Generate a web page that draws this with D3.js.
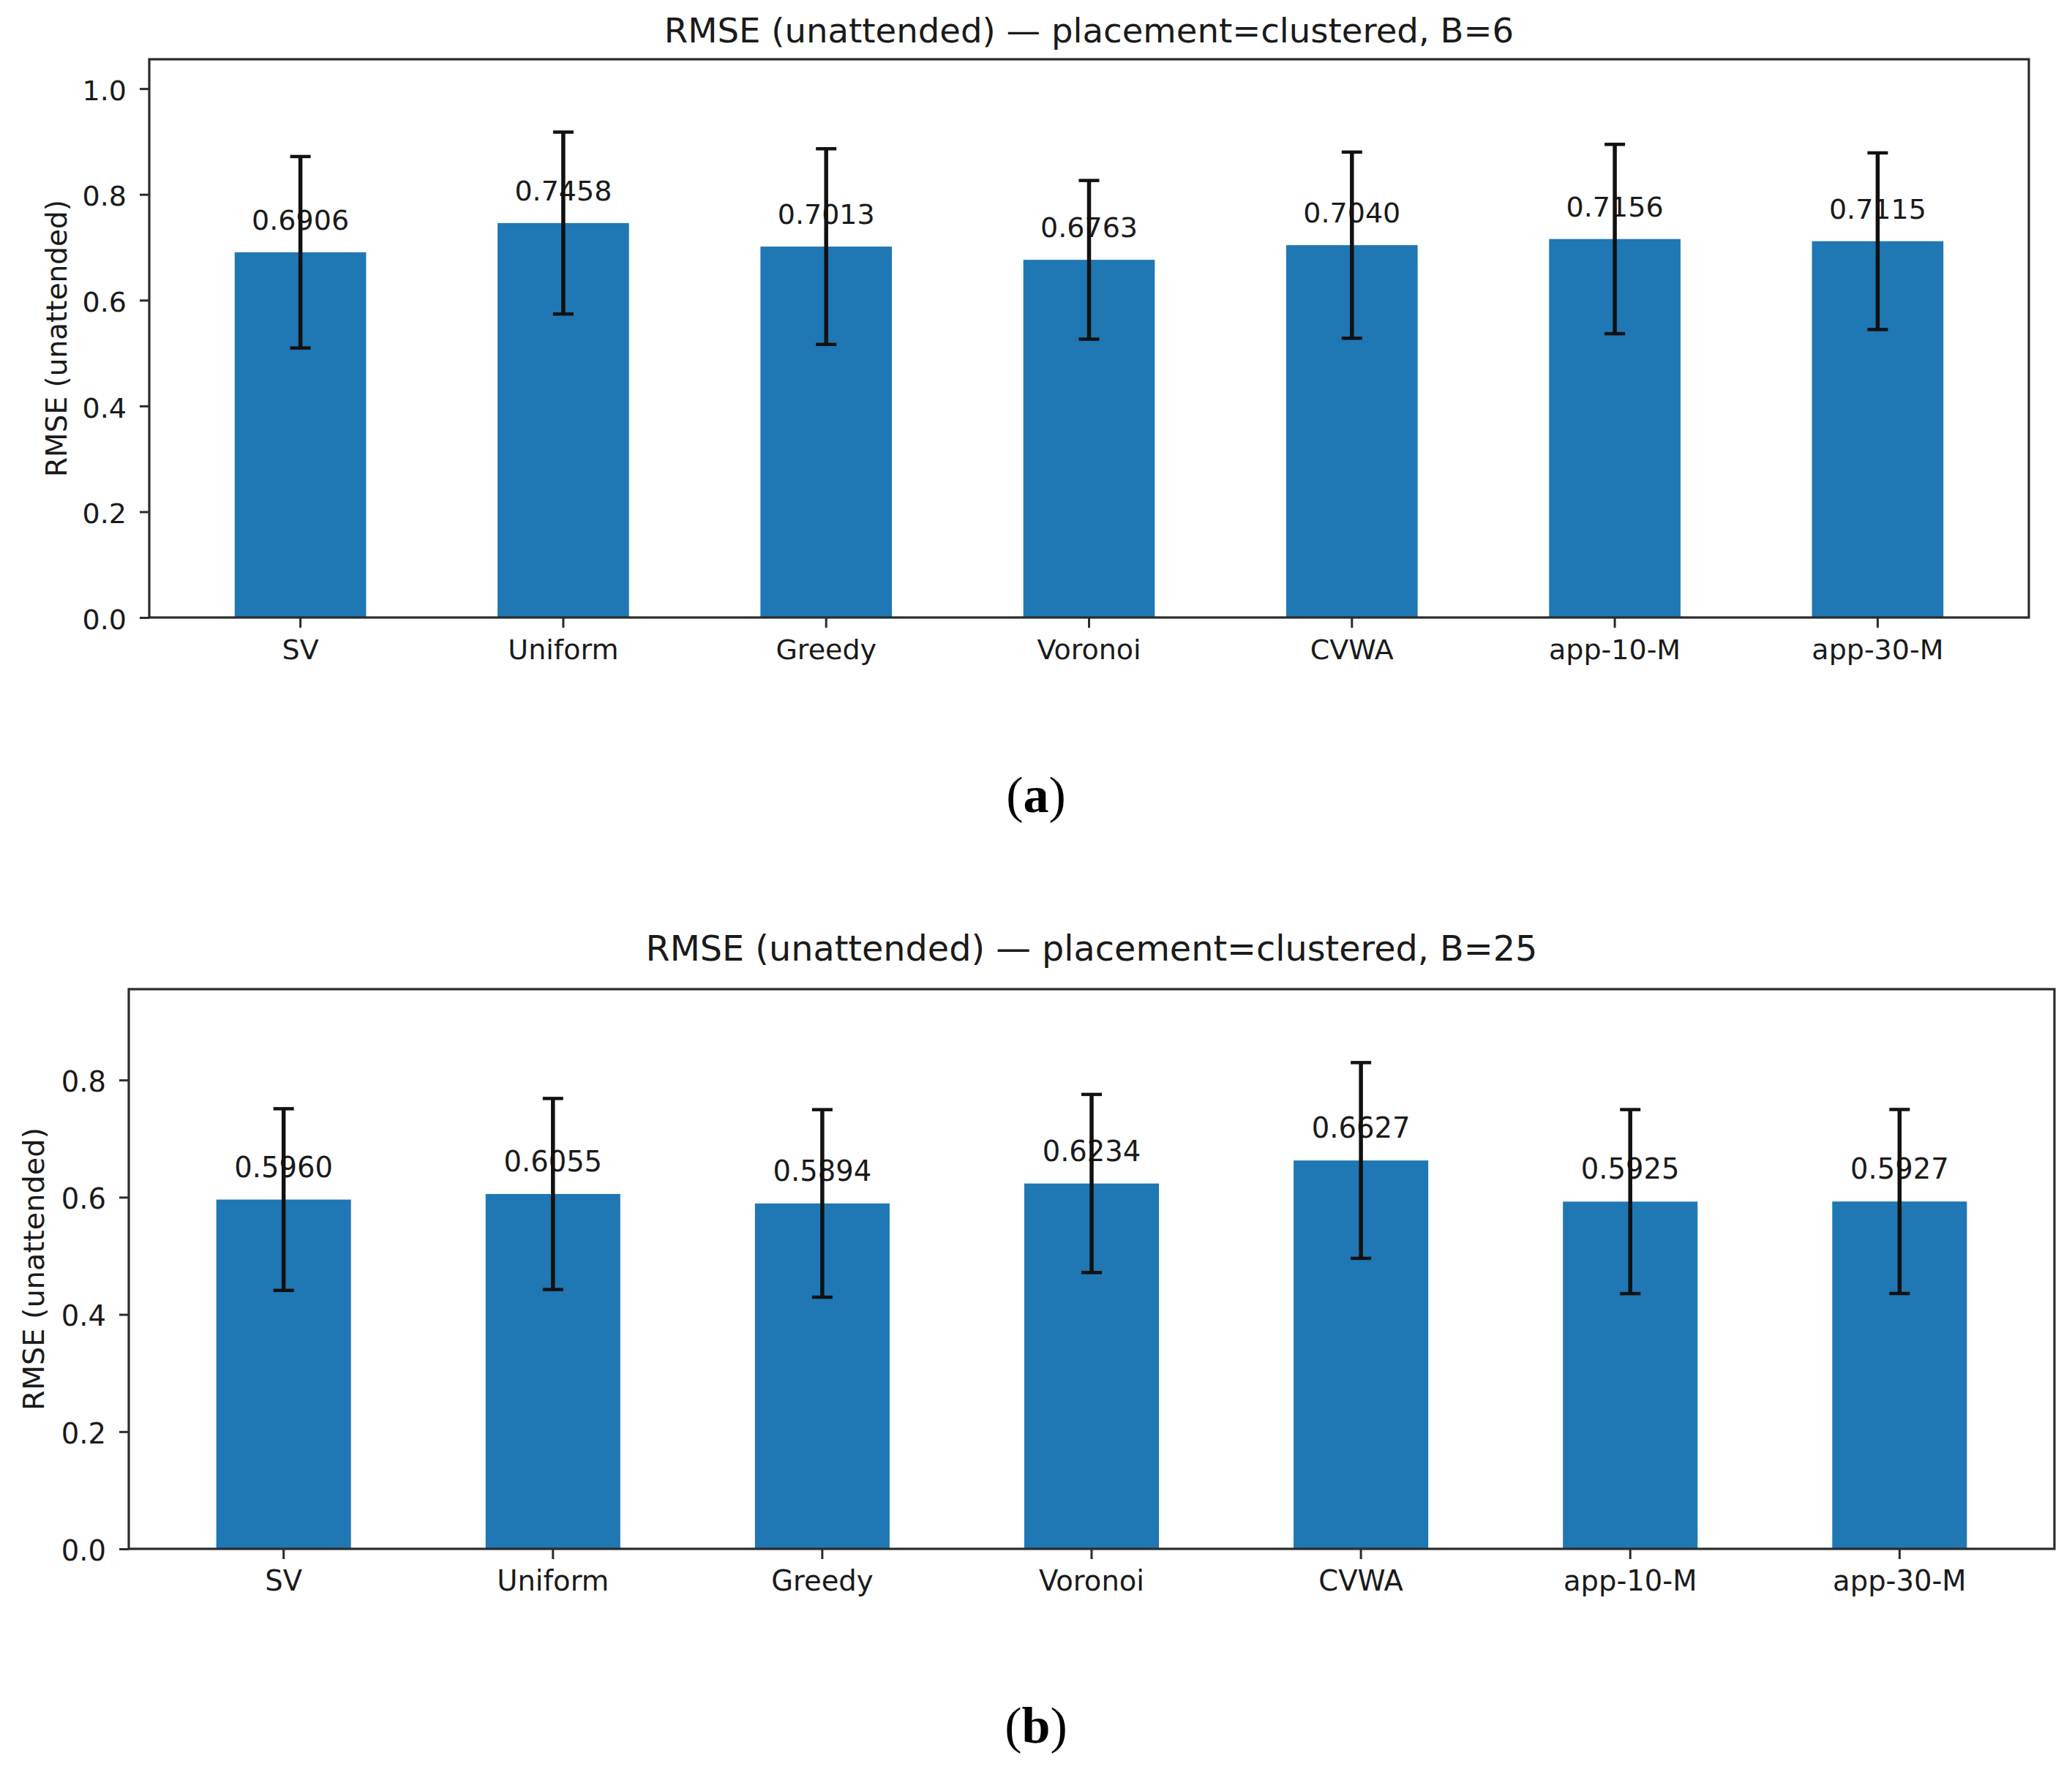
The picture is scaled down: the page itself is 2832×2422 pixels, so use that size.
<!DOCTYPE html>
<html><head><meta charset="utf-8">
<script src="https://cdn.jsdelivr.net/npm/d3@7"></script>
<style>body{margin:0;background:#fff}</style>
</head><body><svg id="c" width="2832" height="2422" style="background:#fff"></svg>
<script>
// ---- data ----
const categories = ["SV","Uniform","Greedy","Voronoi","CVWA","app-10-M","app-30-M"];
const rmseB6  = [0.6906,0.7458,0.7013,0.6763,0.7040,0.7156,0.7115];
const errB6   = [0.181,0.172,0.185,0.150,0.176,0.179,0.167];
const rmseB25 = [0.5960,0.6055,0.5894,0.6234,0.6627,0.5925,0.5927];
const errB25  = [0.155,0.163,0.160,0.152,0.167,0.157,0.157];
const ticksB6  = [0,0.2,0.4,0.6,0.8,1.0];
const ticksB25 = [0,0.2,0.4,0.6,0.8];
const yMaxB6 = 1.0555, yMaxB25 = 0.955;
const titles = ["RMSE (unattended) \u2014 placement=clustered, B=6",
                "RMSE (unattended) \u2014 placement=clustered, B=25"];
const yLabel = "RMSE (unattended)";
const panelLetters = ["a","b"];

// ---- layout ----
const panels = [
  {vals:rmseB6, errs:errB6, ticks:ticksB6, ymax:yMaxB6, title:titles[0], letter:panelLetters[0],
   left:204, right:2773, top:81, bottom:844, tickFont:38, labFont:39, titleFont:46.6, titleY:58, ylabX:91,
   letterY:1110},
  {vals:rmseB25, errs:errB25, ticks:ticksB25, ymax:yMaxB25, title:titles[1], letter:panelLetters[1],
   left:176, right:2808, top:1352, bottom:2117, tickFont:38.5, labFont:39.8, titleFont:47.7, titleY:1313, ylabX:60,
   letterY:2382}
];

const svg = d3.select("#c");
const FONT = "'DejaVu Sans', sans-serif";
const INK = "#1a1a1a";
const SPINE = "#2b2b2b";

panels.forEach(p => {
  const g = svg.append("g");
  const x = d3.scaleBand().domain(categories).range([p.left, p.right])
              .paddingInner(0.5).paddingOuter(0.325);
  const y = d3.scaleLinear().domain([0, p.ymax]).range([p.bottom, p.top]);
  const data = categories.map((c,i) => ({c, v:p.vals[i], e:p.errs[i]}));

  // bars
  g.selectAll("rect.bar").data(data).join("rect").attr("class","bar")
    .attr("x", d => x(d.c)).attr("width", x.bandwidth())
    .attr("y", d => y(d.v)).attr("height", d => y(0) - y(d.v))
    .attr("fill", "#1f77b4");

  // value labels
  g.selectAll("text.val").data(data).join("text").attr("class","val")
    .attr("x", d => x(d.c) + x.bandwidth()/2)
    .attr("y", d => y(d.v) - 31)
    .attr("text-anchor","middle")
    .style("font-family", FONT).style("font-size", p.tickFont + "px").attr("fill", INK)
    .text(d => d.v.toFixed(4));

  // error bars
  const eb = g.selectAll("g.eb").data(data).join("g").attr("class","eb")
    .attr("stroke", "#111").attr("stroke-width", 5.5);
  eb.append("line")
    .attr("x1", d => x(d.c) + x.bandwidth()/2).attr("x2", d => x(d.c) + x.bandwidth()/2)
    .attr("y1", d => y(d.v + d.e)).attr("y2", d => y(d.v - d.e));
  [1,-1].forEach(s => {
    eb.append("line")
      .attr("x1", d => x(d.c) + x.bandwidth()/2 - 14).attr("x2", d => x(d.c) + x.bandwidth()/2 + 14)
      .attr("y1", d => y(d.v + s*d.e)).attr("y2", d => y(d.v + s*d.e))
      .attr("stroke-width", 4.5);
  });

  // axes
  const ax = g.append("g").attr("transform", `translate(0,${p.bottom})`)
    .call(d3.axisBottom(x).tickSize(14).tickPadding(16).tickSizeOuter(0));
  const ay = g.append("g").attr("transform", `translate(${p.left},0)`)
    .call(d3.axisLeft(y).tickValues(p.ticks).tickFormat(d3.format(".1f")).tickSize(13).tickPadding(18).tickSizeOuter(0));
  [ax, ay].forEach(a => {
    a.select(".domain").remove();
    a.selectAll(".tick line").attr("stroke", SPINE).attr("stroke-width", 3);
    a.selectAll(".tick text").attr("fill", INK)
      .style("font-family", FONT).style("font-size", p.tickFont + "px");
  });
  ay.selectAll(".tick text").attr("dy", "0.40em");

  // frame
  g.append("rect").attr("x", p.left).attr("y", p.top)
    .attr("width", p.right - p.left).attr("height", p.bottom - p.top)
    .attr("fill", "none").attr("stroke", SPINE).attr("stroke-width", 3.2);

  // title
  g.append("text").attr("x", (p.left + p.right)/2).attr("y", p.titleY)
    .attr("text-anchor","middle").attr("fill", INK)
    .style("font-family", FONT).style("font-size", p.titleFont + "px")
    .text(p.title);

  // y label
  g.append("text")
    .attr("transform", `translate(${p.ylabX},${(p.top + p.bottom)/2}) rotate(-90)`)
    .attr("text-anchor","middle").attr("fill", INK)
    .style("font-family", FONT).style("font-size", p.labFont + "px")
    .text(yLabel);

  // panel letter
  const t = g.append("text").attr("x", 1416).attr("y", p.letterY)
    .attr("text-anchor","middle").attr("fill", "#000")
    .style("font-family", "'Liberation Serif', 'Times New Roman', serif").style("font-size", "70px");
  t.append("tspan").text("(");
  t.append("tspan").attr("font-weight","bold").text(p.letter);
  t.append("tspan").text(")");
});
</script>
</body></html>
